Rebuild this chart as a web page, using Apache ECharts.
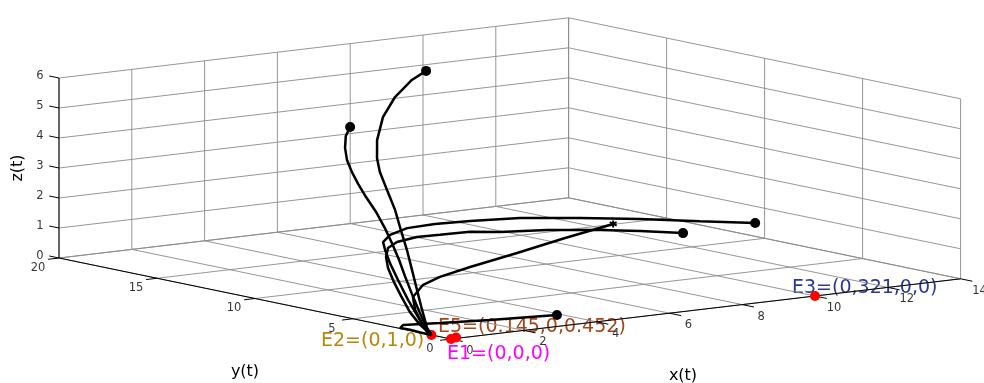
<!DOCTYPE html>
<html>
<head>
<meta charset="utf-8">
<script src="https://cdn.jsdelivr.net/npm/echarts@6/dist/echarts.min.js"></script>
<style>
  html, body { margin: 0; padding: 0; background: #fff; }
  #chart { width: 984px; height: 383px; }
</style>
</head>
<body>
<div id="chart"></div>
<script>
// axis ticks
const xTicks = [0, 2, 4, 6, 8, 10, 12, 14];
const yTicks = [0, 5, 10, 15, 20];
const zTicks = [0, 1, 2, 3, 4, 5, 6];

// trajectories, [x, y, z]
const trajA = [[7.93,16,5.64],[7.27,15.5,5.50],[6.27,14.5,5.21],[5.40,13.5,4.80],[4.70,12.5,4.27],[4.16,11.5,3.88],[3.70,10.5,3.62],[3.38,9.5,3.13],[3.04,8.5,2.72],[2.66,7.5,2.24],[2.29,6.5,1.76],[1.89,5.5,1.29],[1.49,4.5,0.81],[1.09,3.5,0.34],[0.42,2,0.04],[0,1,0]];
const trajB = [[3.69,12,4.92],[3.41,11.7,4.70],[3.12,11.2,4.41],[2.85,10.6,4.13],[2.66,10,3.84],[2.51,9.4,3.54],[2.35,8.7,3.22],[2.25,8,2.83],[2.06,7.2,2.43],[1.82,6.4,2.08],[1.59,5.6,1.65],[1.32,4.8,1.26],[1.08,4,0.81],[0.76,3,0.35],[0.42,2,0],[0,1,0]];
const trajC = [[10.51,4,1.82],[8.99,4,2.10],[7.35,4,2.41],[5.70,4,2.68],[4.05,4,2.91],[2.68,4,3.01],[1.71,4,3.05],[0.95,4,3.02],[0.48,4,2.86],[0.18,3.8,2.69],[0.13,3.6,2.46],[0.10,3.3,2.07],[0.16,3,1.54],[0.22,2.6,0.92],[0.28,2.2,0.40],[0.20,1.6,0],[0,1,0]];
const trajD = [[7.99,3,1.98],[6.81,3,2.22],[5.71,3,2.41],[4.25,3,2.62],[2.96,3,2.74],[2.14,3,2.86],[1.31,3,2.88],[0.68,3,2.90],[0.13,3,2.81],[0.10,3.4,2.56],[0.10,3.5,2.25],[0.10,3.4,1.89],[0.10,3.1,1.47],[0.08,2.7,1.06],[0.11,2.3,0.57],[0.12,1.8,0.21],[0,1,0]];
const trajE = [[6.07,3,2.56],[4.75,3,2.28],[3.43,3,1.97],[2.14,3,1.69],[1.31,3,1.48],[0.85,3,1.28],[0.30,2.5,1.02],[0.20,2.2,0.64],[0.15,1.8,0.30],[0.09,1.4,0.06],[0,1,0]];
const trajF = [[3.88,1.80,0],[2.29,2.26,0],[1.16,2.72,0],[0.35,3.09,0],[0.04,2.67,0],[0.06,2.2,0],[0.02,1.6,0],[0,1,0]];

// equilibrium points and their labels
const eqPoints = [[0,0,0],[0,1,0],[0.14,0,0.03],[10,0,0]];
const eqLabels = ['E1=(0,0,0)', 'E2=(0,1,0)', 'E5=(0.145,0,0.452)', 'E3=(0,321,0,0)'];

// view: screen position of origin and of one unit along each axis
const O = [451, 339], UX = [36.4, -4.3], UY = [-19.6, -4.05], UZ = [0, -30];
function proj(p) {
  return [O[0] + p[0] * UX[0] + p[1] * UY[0] + p[2] * UZ[0],
          O[1] + p[0] * UX[1] + p[1] * UY[1] + p[2] * UZ[1]];
}
function seg(a, b) { return proj(a).concat(proj(b)); }

const X1 = 14, Y1 = 20, Z1 = 6;
const gridSegs = [];
xTicks.forEach(x => { gridSegs.push(seg([x,0,0],[x,Y1,0])); gridSegs.push(seg([x,Y1,0],[x,Y1,Z1])); });
yTicks.forEach(y => { gridSegs.push(seg([0,y,0],[X1,y,0])); gridSegs.push(seg([X1,y,0],[X1,y,Z1])); });
zTicks.forEach(z => { gridSegs.push(seg([0,Y1,z],[X1,Y1,z])); gridSegs.push(seg([X1,0,z],[X1,Y1,z])); });

const axisSegs = [seg([0,0,0],[X1,0,0]), seg([0,0,0],[0,Y1,0]), seg([0,Y1,0],[0,Y1,Z1])];
xTicks.forEach(x => axisSegs.push(seg([x,0,0],[x,-0.6,0])));
yTicks.forEach(y => axisSegs.push(seg([0,y,0],[-0.3,y,0])));
zTicks.forEach(z => axisSegs.push(seg([0,Y1,z],[0,Y1+0.5,z])));

function segSeries(segs, color, width, dash) {
  return {
    type: 'custom',
    silent: true,
    data: segs,
    encode: { x: [0, 2], y: [1, 3] },
    renderItem: function (params, api) {
      const a = api.coord([api.value(0), api.value(1)]);
      const b = api.coord([api.value(2), api.value(3)]);
      return {
        type: 'line',
        shape: { x1: a[0], y1: a[1], x2: b[0], y2: b[1] },
        style: { stroke: color, lineWidth: width, lineDash: dash || null }
      };
    }
  };
}

function trajSeries(pts) {
  return {
    type: 'line',
    data: pts.map(proj),
    showSymbol: false,
    lineStyle: { color: '#000', width: 2.5 },
    silent: true
  };
}

function tickLabels(vals, toPt, offset) {
  return {
    type: 'scatter',
    symbolSize: 1,
    itemStyle: { color: 'rgba(0,0,0,0)' },
    silent: true,
    data: vals.map(v => ({ value: proj(toPt(v)), label: { formatter: String(v) } })),
    label: {
      show: true, position: 'inside', offset: offset,
      color: '#000', fontSize: 11.5, fontFamily: 'DejaVu Sans'
    }
  };
}

const font = 'DejaVu Sans';
function text(x, y, str, color, size, align, extra) {
  return Object.assign({
    type: 'text', x: x, y: y,
    style: {
      text: str, fill: color, fontSize: size, fontFamily: font,
      align: align, verticalAlign: 'middle',
      textAlign: align, textVerticalAlign: 'middle'
    }
  }, extra || {});
}

const chart = echarts.init(document.getElementById('chart'));
chart.setOption({
  animation: false,
  backgroundColor: '#fff',
  grid: { left: 0, right: 0, top: 0, bottom: 0 },
  xAxis: { type: 'value', min: 0, max: 984, show: false },
  yAxis: { type: 'value', min: 0, max: 383, inverse: true, show: false },
  series: [
    segSeries(gridSegs, '#8a8a8a', 0.9),
    segSeries(axisSegs, '#000', 1),
    trajSeries(trajA),
    trajSeries(trajB),
    trajSeries(trajC),
    trajSeries(trajD),
    trajSeries(trajE),
    trajSeries(trajF),
    {
      type: 'scatter',
      symbol: 'circle',
      symbolSize: 10,
      itemStyle: { color: '#000', opacity: 1 },
      silent: true,
      data: [trajA[0], trajB[0], trajC[0], trajD[0], trajF[0]].map(proj)
    },
    {
      type: 'scatter',
      symbol: 'path://M0,-1L0,1M-0.87,-0.5L0.87,0.5M-0.87,0.5L0.87,-0.5',
      symbolSize: 7,
      itemStyle: { color: 'rgba(0,0,0,0)', borderColor: '#000', borderWidth: 2, opacity: 1 },
      silent: true,
      data: [proj(trajE[0])]
    },
    {
      type: 'scatter',
      symbol: 'circle',
      symbolSize: 10,
      itemStyle: { color: '#ff0000', opacity: 1 },
      silent: true,
      data: eqPoints.map(proj)
    },
    tickLabels(xTicks, v => [v, 0, 0], [19, 12]),
    tickLabels(yTicks, v => [0, v, 0], [-21, 10]),
    tickLabels(zTicks, v => [0, Y1, v], [-19, -2])
  ],
  graphic: [
    text(447, 354, eqLabels[0], '#ff00ff', 19, 'left'),
    text(321, 341, eqLabels[1], '#b8860b', 19, 'left'),
    text(438, 327, eqLabels[2], '#a5461a', 19, 'left'),
    text(792, 288, eqLabels[3], '#2a3a92', 19, 'left'),
    text(683, 376, 'x(t)', '#000', 16, 'center'),
    text(245, 372, 'y(t)', '#000', 16, 'center'),
    text(18, 168, 'z(t)', '#000', 16, 'center', { rotation: Math.PI / 2 })
  ]
});
</script>
</body>
</html>
